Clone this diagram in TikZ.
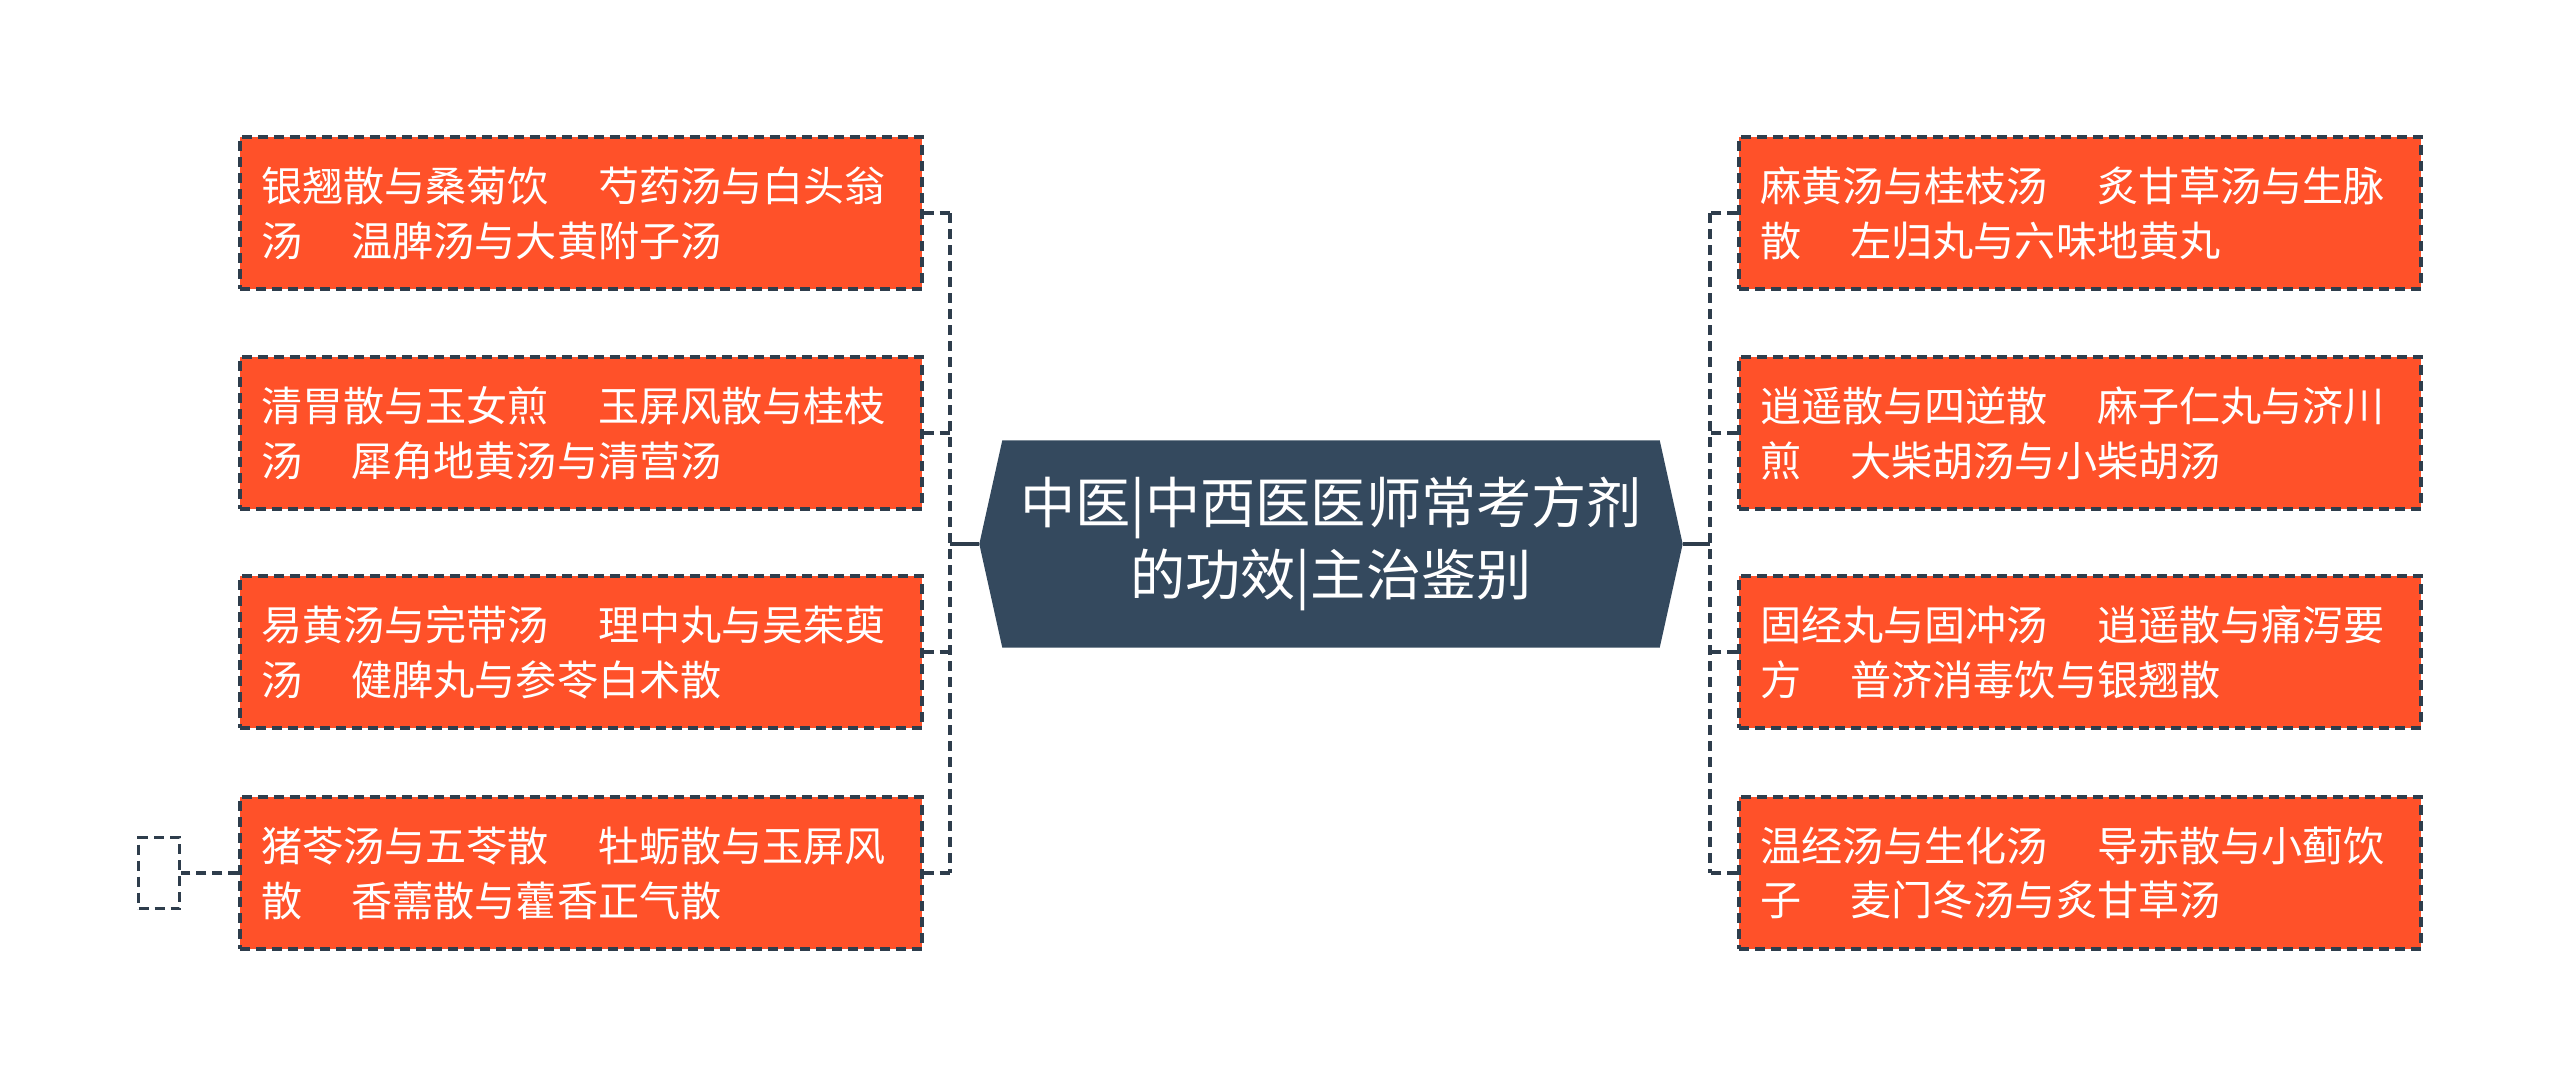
\documentclass[tikz,border=0pt]{standalone}
\usepackage{fontspec}
\newfontfamily\cjk{Noto Sans CJK SC}
\usetikzlibrary{backgrounds}
\definecolor{leafred}{HTML}{FF5129}
\definecolor{rootblue}{HTML}{34495E}
\definecolor{linegray}{HTML}{2E3D4C}
\tikzset{
    leaf/.style = {draw = linegray, dash pattern = on 1mm off 0.6mm, line width = 0.9pt, fill = leafred,
        minimum width = 6.82cm, minimum height = 1.52cm, text width = 6.4cm, inner xsep = 0.21cm,
        align = left, text = white, font = \cjk\fontsize{11.7}{15.6}\selectfont},
    link/.style = {draw = linegray, dash pattern = on 1mm off 0.6mm, line width = 1pt},
}
\begin{document}
\begin{tikzpicture}[x = 0.1mm, y = -0.1mm]
    \useasboundingbox (0,0) rectangle (2560,1087);
    \node[minimum width = 7.02cm, minimum height = 2.06cm, align = center, text = white,
        font = \cjk\fontsize{15.7}{20.5}\selectfont] (root) at (1331,544) {中医|中西医医师常考方剂\\的功效|主治鉴别};
    \begin{scope}[on background layer]
        \fill[rootblue] (root.west) -- ([xshift = 0.23cm]root.north west) -- ([xshift = -0.23cm]root.north east)
            -- (root.east) -- ([xshift = -0.23cm]root.south east) -- ([xshift = 0.23cm]root.south west) -- cycle;
    \end{scope}

    \node[leaf] (l1) at (581,213) {银翘散与桑菊饮\hspace{1.2em}芍药汤与白头翁\\汤\hspace{1.2em}温脾汤与大黄附子汤};
    \node[leaf] (l2) at (581,433) {清胃散与玉女煎\hspace{1.2em}玉屏风散与桂枝\\汤\hspace{1.2em}犀角地黄汤与清营汤};
    \node[leaf] (l3) at (581,652) {易黄汤与完带汤\hspace{1.2em}理中丸与吴茱萸\\汤\hspace{1.2em}健脾丸与参苓白术散};
    \node[leaf] (l4) at (581,873) {猪苓汤与五苓散\hspace{1.2em}牡蛎散与玉屏风\\散\hspace{1.2em}香薷散与藿香正气散};
    \node[leaf] (r1) at (2080,213) {麻黄汤与桂枝汤\hspace{1.2em}炙甘草汤与生脉\\散\hspace{1.2em}左归丸与六味地黄丸};
    \node[leaf] (r2) at (2080,433) {逍遥散与四逆散\hspace{1.2em}麻子仁丸与济川\\煎\hspace{1.2em}大柴胡汤与小柴胡汤};
    \node[leaf] (r3) at (2080,652) {固经丸与固冲汤\hspace{1.2em}逍遥散与痛泻要\\方\hspace{1.2em}普济消毒饮与银翘散};
    \node[leaf] (r4) at (2080,873) {温经汤与生化汤\hspace{1.2em}导赤散与小蓟饮\\子\hspace{1.2em}麦门冬汤与炙甘草汤};
    \node[draw = linegray, dash pattern = on 1mm off 0.6mm, line width = 0.9pt,
        minimum width = 0.41cm, minimum height = 0.71cm] (tail) at (159,873) {};

    \coordinate (lbus) at (950,544);
    \coordinate (rbus) at (1710,544);
    \draw[linegray, line width = 1.3pt] (root.west) -- (lbus);
    \draw[linegray, line width = 1.3pt] (root.east) -- (rbus);
    \draw[link] (l1.east -| lbus) -- (l4.east -| lbus);
    \draw[link] (r1.west -| rbus) -- (r4.west -| rbus);
    \foreach \n in {1,2,3,4} {
        \draw[link] (l\n.east) -- (l\n.east -| lbus);
        \draw[link] (r\n.west) -- (r\n.west -| rbus);
    }
    \draw[link] (l4.west) -- (tail.east);
\end{tikzpicture}
\end{document}
